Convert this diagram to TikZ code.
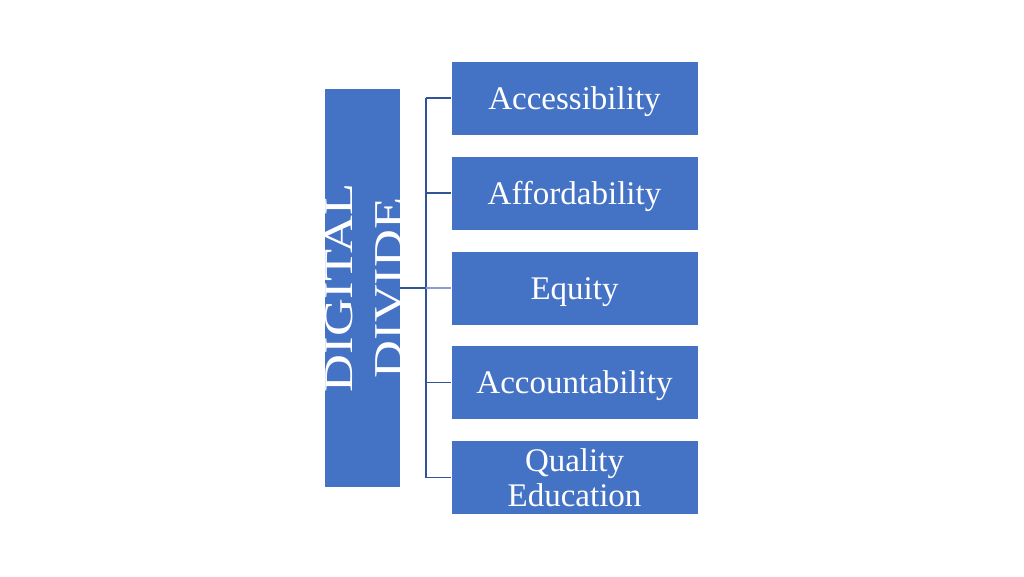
\documentclass[tikz,border=0pt]{standalone}
\usepackage{fontspec}
\setmainfont{Liberation Serif}
\definecolor{boxblue}{HTML}{4472C4}
\definecolor{linedark}{HTML}{2F5597}
\definecolor{linelight}{HTML}{8E9BD6}
\begin{document}
\begin{tikzpicture}[x=0.75pt,y=-0.75pt,
  itembox/.style={rectangle, fill=boxblue, draw=white, line width=0.4pt,
    minimum width=185.25pt, minimum height=55.5pt, inner sep=0pt,
    text=white, align=center,
    font=\fontsize{24.75pt}{26pt}\selectfont},
  oneline/.style={text height=16.5pt, text depth=0pt},
  conn/.style={draw=linedark, line width=0.8pt},
  connlight/.style={draw=linelight, line width=0.8pt}]
\useasboundingbox (0,0) rectangle (1024,576);
\node[rectangle, fill=boxblue, minimum width=56.25pt, minimum height=298.5pt, inner sep=0pt] (dd) at (362.5,288) {};
\begin{scope}
\clip (dd.south west) rectangle (dd.north east);
\node[rotate=90, xscale=1.28, text=white, align=center, inner sep=0pt,
  font=\fontsize{30.75pt}{37.5pt}\selectfont] (ddtext) at (364,288) {DIGITAL\\DIVIDE};
\end{scope}
\node[itembox, oneline] (b1) at (574.5,98) {Accessibility};
\node[itembox, oneline] (b2) at (574.5,193) {Affordability};
\node[itembox, oneline] (b3) at (574.5,288) {Equity};
\node[itembox, oneline] (b4) at (574.5,382.5) {Accountability};
\node[itembox] (b5) at (574.5,477.5) {Quality\\Education};
\coordinate (jn) at (426,288);
\draw[conn] (dd.east) -- (jn);
\draw[conn] (jn |- b1.west) -- (jn |- b5.west);
\draw[conn] (jn |- b1.west) -- (b1.west);
\draw[conn] (jn |- b2.west) -- (b2.west);
\draw[connlight] (jn) -- (b3.west);
\draw[conn] (jn |- b4.west) -- (b4.west);
\draw[conn] (jn |- b5.west) -- (b5.west);
\end{tikzpicture}
\end{document}
